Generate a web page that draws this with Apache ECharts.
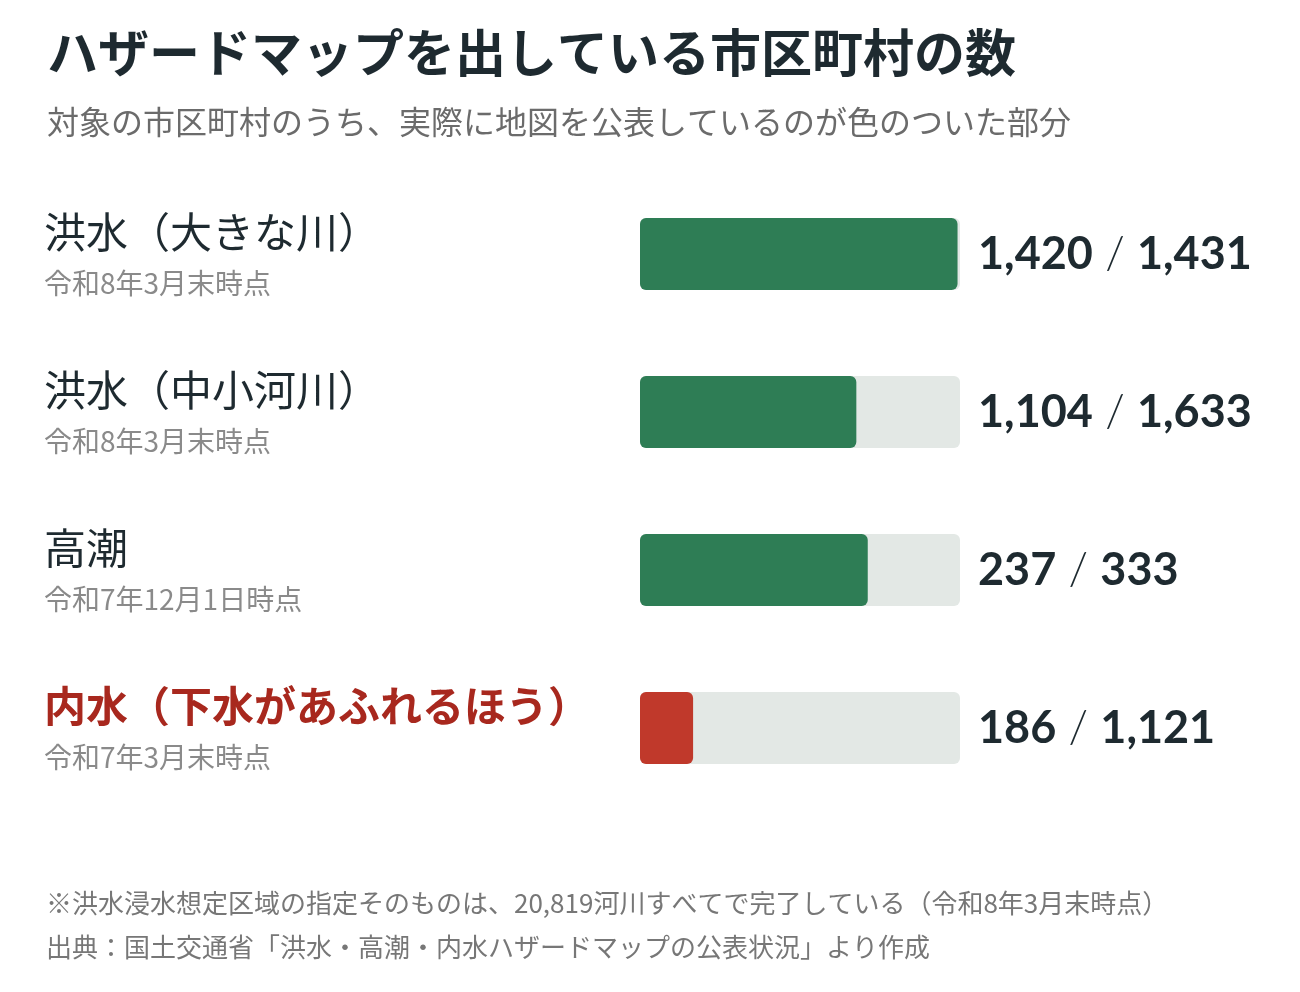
<!DOCTYPE html>
<html><head><meta charset="utf-8">
<script src="https://cdn.jsdelivr.net/npm/echarts@6/dist/echarts.min.js"></script>
<style>html,body{margin:0;background:#fff}#main{width:1300px;height:992px}</style>
</head><body><div id="main"></div>
<script>
var categories = ['洪水（大きな川）', '洪水（中小河川）', '高潮', '内水（下水があふれるほう）'];
var asOf = ['令和8年3月末時点', '令和8年3月末時点', '令和7年12月1日時点', '令和7年3月末時点'];
var published = [1420, 1104, 237, 186];
var totals = [1431, 1633, 333, 1121];
var highlight = [false, false, false, true];

var JP = '"Noto Sans CJK JP", sans-serif';
var fmt = function (v) { return v.toLocaleString('en-US'); };
var shares = published.map(function (v, i) { return v / totals[i] * 100; });

var chart = echarts.init(document.getElementById('main'));
chart.setOption({
	animation: false,
	title: {
		text: 'ハザードマップを出している市区町村の数',
		subtext: '対象の市区町村のうち、実際に地図を公表しているのが色のついた部分',
		left: 42, top: 22, itemGap: 28,
		textStyle: { fontFamily: JP, fontSize: 51, fontWeight: 'bold', color: '#1e2a30' },
		subtextStyle: { fontFamily: JP, fontSize: 32, color: '#6b6b6b' }
	},
	grid: { left: 640, width: 320, top: 175, height: 632 },
	xAxis: { type: 'value', min: 0, max: 100, show: false },
	yAxis: {
		type: 'category', inverse: true, data: categories,
		axisLine: { show: false }, axisTick: { show: false },
		axisLabel: {
			align: 'left', margin: 596,
			formatter: function (v, i) {
				return '{' + (highlight[i] ? 'nr' : 'n') + '|' + v + '}\n{d|' + asOf[i] + '}';
			},
			rich: {
				n: { fontFamily: JP, fontSize: 42, color: '#1e2a30', lineHeight: 58 },
				nr: { fontFamily: JP, fontSize: 42, fontWeight: 'bold', color: '#a8281e', lineHeight: 58 },
				d: { fontFamily: JP, fontSize: 28, color: '#8a8a8a', lineHeight: 44 }
			}
		}
	},
	series: [{
		type: 'bar', barWidth: 72, silent: true,
		data: totals.map(function () { return 100; }),
		itemStyle: { color: '#e3e8e5', borderRadius: 6 },
		label: {
			show: true, position: 'right', distance: 18,
			formatter: function (p) {
				return '{v|' + fmt(published[p.dataIndex]) + '}{s| / }{v|' + fmt(totals[p.dataIndex]) + '}';
			},
			rich: {
				v: { fontFamily: 'Lato, sans-serif', fontSize: 45, fontWeight: 'bold', color: '#1e2a30' },
				s: { fontFamily: 'Lato, sans-serif', fontSize: 45, fontWeight: 300, color: '#1e2a30' }
			}
		}
	}, {
		type: 'bar', barWidth: 72, barGap: '-100%', silent: true,
		data: shares.map(function (v, i) {
			return { value: v, itemStyle: { color: highlight[i] ? '#c0392b' : '#2e7d55' } };
		}),
		itemStyle: { borderRadius: 6 }
	}],
	graphic: [
		{ type: 'text', left: 46, top: 890, style: { text: '※洪水浸水想定区域の指定そのものは、20,819河川すべてで完了している（令和8年3月末時点）', font: '26px ' + JP, fill: '#777' } },
		{ type: 'text', left: 46, top: 934, style: { text: '出典：国土交通省「洪水・高潮・内水ハザードマップの公表状況」より作成', font: '26px ' + JP, fill: '#777' } }
	]
});
</script></body></html>
